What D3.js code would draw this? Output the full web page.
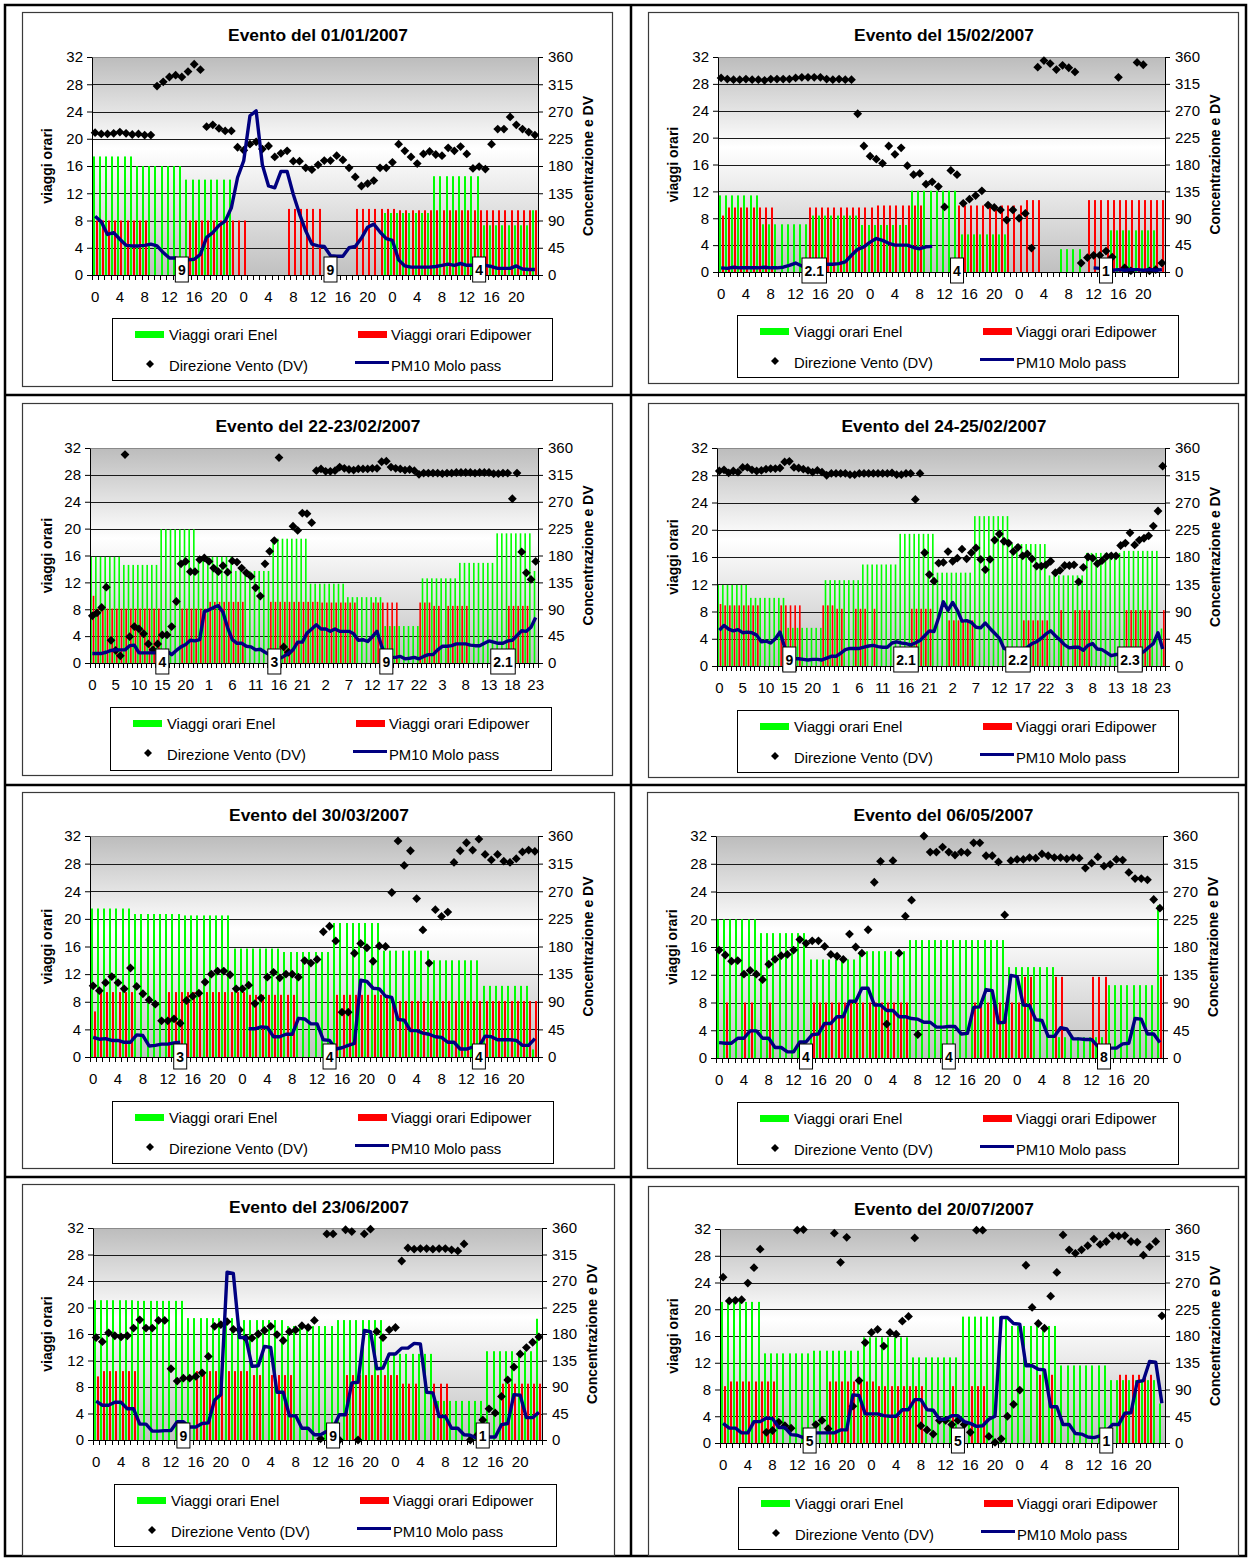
<!DOCTYPE html>
<html>
<head>
<meta charset="utf-8">
<script src="https://cdn.jsdelivr.net/npm/d3@7"></script>
<style>
  body { margin: 0; background: #fff; }
  svg { display: block; font-family: "Liberation Sans", Arial, sans-serif; }
</style>
</head>
<body>
<svg id="chart" width="1252" height="1560"></svg>
<script>
// ---------- hour labels ----------
const dayHours = [0,1,2,3,4,5,6,7,8,9,10,11,12,13,14,15,16,17,18,19,20,21,22,23];
const hours3d = [...dayHours, ...dayHours, ...dayHours];
const hours4d = [...dayHours, ...dayHours, ...dayHours, ...dayHours];

const seriesNames = ["Viaggi orari Enel", "Viaggi orari Edipower", "Direzione Vento (DV)", "PM10 Molo pass"];
const leftTicks = [0,4,8,12,16,20,24,28,32];
const rightTicks = [0,45,90,135,180,225,270,315,360];

// ---------- Evento del 01/01/2007 ----------
const enel1 = [
  17.4,17.4,17.4,17.4,17.4,17.4,17.4,16,16,16,16,16,16,16,16,14,14,14,14,14,14,14,14,0,
  0,0,0,0,0,0,0,0,0,0,0,0,0,0,0,0,0,0,0,0,0,0,0,9.1,
  9.1,9.1,9.1,9.1,9.1,9.1,9.1,14.5,14.5,14.5,14.5,14.5,14.5,14.5,14.5,7.3,7.3,7.3,7.3,7.3,7.3,7.3,7.3,9.5];
const edipower1 = [
  8,8,8,8,8,8,8,8,8,0,0,0,0,0,0,8,8,8,8,8,8,8,8,8,
  8,0,0,0,0,0,0,9.7,9.7,9.7,9.7,9.7,9.7,0,0,0,0,0,9.7,9.7,9.7,9.7,9.7,9.7,
  9.7,9.5,9.5,9.5,9.5,9.5,9.5,9.5,9.5,9.5,9.5,9.5,9.5,9.5,9.5,9.5,9.5,9.5,9.5,9.5,9.5,9.5,9.5,9.5];
const dv1 = [
  235,233,233,234,236,234,232,233,231,231,312,319,327,330,327,336,348,339,245,248,242,238,238,211,
  206,216,220,208,213,195,201,205,188,188,177,174,182,189,189,197,190,177,162,147,151,156,177,177,
  186,216,205,195,184,200,204,199,197,210,205,212,200,176,179,175,216,241,241,261,248,241,236,231];
const pm1 = [
  97,88,67,70,59,49,48,48,49,51,48,37,28,28,26,25,26,34,62,70,82,89,111,161,
  189,263,271,182,147,144,171,171,133,101,73,51,48,47,32,31,31,45,47,61,79,84,71,60,
  57,25,15,13,13,13,13,14,16,18,16,19,16,16,18,16,14,11,11,11,15,10,9,9];
const boxes1 = [{at:14,label:"9"},{at:38,label:"9"},{at:62,label:"4"}];

// ---------- Evento del 15/02/2007 ----------
const enel2 = [
  11.4,11.4,11.4,11.4,11.4,11.4,11.4,7.1,7.1,7.1,7.1,7.1,7.1,7.1,7.1,8.4,8.4,8.4,8.4,8.4,8.4,8.4,8.4,7,
  7,7,7,7,7,7,7,12.1,12.1,12.1,12.1,12.1,12.1,12.1,12.1,5.6,5.6,5.6,5.6,5.6,5.6,5.6,5.6,0,
  0,0,0,0,0,0,0,3.4,3.4,3.4,3.4,0,0,0,0,6.2,6.2,6.2,6.2,6.2,6.2,6.2,6.2,0];
const edipower2 = [
  8.4,9.6,9.6,9.6,9.6,9.6,9.6,9.6,9.6,0,0,0,0,0,9.6,9.6,9.6,9.6,9.6,9.6,9.6,9.6,9.6,9.6,
  9.6,9.9,9.9,9.9,9.9,9.9,9.9,9.9,9.9,0,0,0,0,0,9.9,9.9,9.9,9.9,9.9,9.9,9.9,9.9,9.9,9.9,
  9.9,10.7,10.7,10.7,0,0,0,0,0,0,0,10.7,10.7,10.7,10.7,10.7,10.7,10.7,10.7,10.7,10.7,10.7,10.7,10.7];
const dv2 = [
  325,323,322,322,323,322,322,321,323,323,323,323,325,326,326,326,326,323,322,323,322,322,265,211,
  194,189,182,211,197,208,178,163,165,147,151,143,109,170,163,115,122,128,136,112,108,104,87,104,
  90,98,40,343,354,349,339,346,342,335,15,24,28,28,35,25,326,7,2,351,347,2,4,15];
const pm2 = [
  7,6,8,7,7,7,7,8,7,7,8,11,15,10,8,8,13,13,13,14,17,28,38,42,
  50,56,53,48,45,45,45,41,39,42,43,null,null,null,null,null,null,null,null,null,null,null,null,null,
  null,null,null,null,null,null,null,null,null,null,null,null,7,6,4,3,4,3,4,4,3,4,3,4];
const boxes2 = [{at:15,label:"2.1"},{at:38,label:"4"},{at:62,label:"1"}];

// ---------- Evento del 22-23/02/2007 ----------
const enel3 = [
  15.8,15.8,15.8,15.8,15.8,15.8,15.8,14.6,14.6,14.6,14.6,14.6,14.6,14.6,14.6,19.9,19.9,19.9,19.9,19.9,19.9,19.9,19.9,15.8,
  15.8,15.8,15.8,15.8,15.8,15.8,15.8,13.7,13.7,13.7,13.7,13.7,13.7,13.7,13.7,18.5,18.5,18.5,18.5,18.5,18.5,18.5,18.5,11.8,
  11.8,11.8,11.8,11.8,11.8,11.8,11.8,9.8,9.8,9.8,9.8,9.8,9.8,9.8,9.8,5.5,5.5,5.5,5.5,5.5,5.5,5.5,5.5,12.6,
  12.6,12.6,12.6,12.6,12.6,12.6,12.6,14.9,14.9,14.9,14.9,14.9,14.9,14.9,14.9,19.3,19.3,19.3,19.3,19.3,19.3,19.3,19.3,13.7];
const edipower3 = [
  10,8.1,8.1,8.1,8.1,8.1,8.1,8.1,8.1,8.1,8.1,8.1,8.1,8.1,8.1,0,0,0,0,8.1,8.1,8.1,8.1,8.1,
  8.1,9.1,9.1,9.1,9.1,9.1,9.1,9.1,9.1,0,0,0,0,0,9.1,9.1,9.1,9.1,9.1,9.1,9.1,9.1,9.1,9.1,
  9.1,9,9,9,9,9,9,9,9,0,0,0,9,9,9,9,9,9,0,0,0,0,9,9,
  9,8.5,8.5,0,8.5,8.5,8.5,8.5,8.5,0,0,0,0,0,0,0,0,8.5,8.5,8.5,8.5,8.5,0,0];
const dv3 = [
  79,84,93,127,38,21,12,349,44,61,57,49,32,22,32,47,47,61,103,166,170,153,153,173,
  176,170,159,153,163,152,171,169,159,151,145,126,112,166,187,205,344,27,18,229,222,251,250,235,
  322,325,321,321,322,328,326,324,323,325,325,325,326,326,337,338,328,326,325,323,324,322,316,318,
  318,318,318,317,318,318,319,319,319,319,318,319,319,319,317,317,318,318,275,318,186,151,140,170];
const pm3 = [
  16,16,16,18,21,22,22,22,29,30,17,17,17,17,17,20,20,14,21,27,31,38,37,39,
  86,89,93,96,85,59,39,33,33,28,27,22,23,18,14,11,7,11,16,22,35,35,50,57,
  64,57,57,53,57,53,53,53,49,38,39,36,44,53,28,11,9.5,9.5,11,7,8,9.5,7,11,
  14,14,22,28,28,29,32,32,32,30,29,29,33,37,35,33,33,37,38,46,54,53,60,76];
const boxes3 = [{at:15,label:"4"},{at:39,label:"3"},{at:63,label:"9"},{at:88,label:"2.1"}];

// ---------- Evento del 24-25/02/2007 ----------
const enel4 = [
  11.9,11.9,11.9,11.9,11.9,11.9,11.9,10,10,10,10,10,10,10,10,5.6,5.6,5.6,5.6,5.6,5.6,5.6,5.6,12.6,
  12.6,12.6,12.6,12.6,12.6,12.6,12.6,14.9,14.9,14.9,14.9,14.9,14.9,14.9,14.9,19.4,19.4,19.4,19.4,19.4,19.4,19.4,19.4,13.7,
  13.7,13.7,13.7,13.7,13.7,13.7,13.7,22,22,22,22,22,22,22,22,17.9,17.9,17.9,17.9,17.9,17.9,17.9,17.9,13.3,
  13.3,13.3,13.3,13.3,13.3,13.3,13.3,16.6,16.6,16.6,16.6,16.6,16.6,16.6,16.6,16.9,16.9,16.9,16.9,16.9,16.9,16.9,16.9,5.5];
const edipower4 = [
  9.1,8.9,8.9,8.9,8.9,8.9,8.9,8.9,8.9,0,0,0,0,8.9,8.9,8.9,8.9,8.9,0,0,0,0,8.9,8.9,
  8.9,8.4,8.4,0,0,8.4,8.4,8.4,0,8.4,0,0,0,0,0,0,0,8.4,8.4,8.4,8.4,8.4,0,0,
  0,6.7,6.7,6.7,6.7,6.7,6.7,0,0,0,0,0,0,0,0,0,0,6.7,6.7,6.7,6.7,6.7,6.7,0,
  0,8.2,0,0,8.2,8.2,8.2,8.2,0,0,0,0,0,0,0,8.2,8.2,8.2,8.2,8.2,8.2,0,0,8.2];
const dv4 = [
  322,324,319,322,320,328,328,324,322,323,325,326,326,327,337,338,328,327,325,323,320,323,320,315,
  318,318,318,318,316,316,318,318,318,318,318,318,318,319,316,316,318,318,275,318,187,151,140,170,
  171,189,173,178,193,177,187,195,176,159,176,208,218,206,203,189,196,182,185,177,165,165,167,173,
  154,158,166,166,167,139,163,180,178,169,174,181,182,182,199,203,220,200,208,211,215,231,256,330];
const pm4 = [
  59,67,61,58,60,55,56,55,51,40,41,38,45,56,31,12,12,12,11,10,11,11,10,13,
  16,16,21,27,29,29,29,31,33,34,32,31,31,38,40,38,37,35,38,42,50,58,57,80,
  106,92,105,92,74,75,72,64,63,71,62,54,46,29,26,22,20,22,31,37,40,46,53,58,
  50,43,35,30,31,31,26,34,37,28,27,22,17,19,19,20,17,16,20,24,31,37,55,28];
const boxes4 = [{at:15,label:"9"},{at:40,label:"2.1"},{at:64,label:"2.2"},{at:88,label:"2.3"}];

// ---------- Evento del 30/03/2007 ----------
const enel5 = [
  21.5,21.5,21.5,21.5,21.5,21.5,21.5,20.7,20.7,20.7,20.7,20.7,20.7,20.7,20.7,20.5,20.5,20.5,20.5,20.5,20.5,20.5,20.5,15.7,
  15.7,15.7,15.7,15.7,15.7,15.7,15.7,15.2,15.2,15.2,15.2,15.2,15.2,15.2,15.2,19.4,19.4,19.4,19.4,19.4,19.4,19.4,19.4,15.4,
  15.4,15.4,15.4,15.4,15.4,15.4,15.4,14,14,14,14,14,14,14,14,10.3,10.3,10.3,10.3,10.3,10.3,10.3,10.3,1.1];
const edipower5 = [
  6.6,9.4,9.4,9.4,9.4,9.4,9.4,0,0,0,0,0,9.4,9.4,9.4,9.4,9.4,9.4,9.4,9.4,9.4,9.4,9.4,9.4,
  9.4,9,9,9,9,9,9,9,9,0,0,0,0,0,0,9,9,9,9,9,9,9,9,9,
  8.1,8.1,8.1,8.1,8.1,8.1,8.1,8.1,8.1,8.1,8.1,8.1,8.1,8.1,8.1,8.1,8.1,8.1,8.1,8.1,8.1,8.1,8.1,8.1];
const dv5 = [
  116,108,121,131,121,111,145,115,103,93,86,59,59,62,55,92,99,104,122,135,140,140,134,111,
  111,117,87,96,130,138,129,135,135,130,157,153,159,204,213,189,73,73,169,185,178,156,181,180,
  268,352,312,336,258,207,153,240,229,236,317,336,349,337,355,330,321,330,319,317,323,334,337,335];
const pm5 = [
  32,29,30,27,27,24,24,36,35,18,19,21,21,23,24,null,null,null,null,null,null,null,null,null,
  null,46,46,49,48,33,33,37,37,63,62,54,54,28,27,13,15,19,22,125,123,112,111,99,
  97,61,60,43,43,39,37,33,32,24,24,13,13,16,17,34,33,28,28,28,27,19,19,30];
const boxes5 = [{at:14,label:"3"},{at:38,label:"4"},{at:62,label:"4"}];

// ---------- Evento del 06/05/2007 ----------
const enel6 = [
  20,20,20,20,20,20,20,18,18,18,18,18,18,18,18,14.2,14.2,14.2,14.2,14.2,14.2,14.2,14.2,15.4,
  15.4,15.4,15.4,15.4,15.4,15.4,15.4,17,17,17,17,17,17,17,17,17,17,17,17,17,17,17,17,13.1,
  13.1,13.1,13.1,13.1,13.1,13.1,13.1,3,3,3,3,3,3,3,3,10.5,10.5,10.5,10.5,10.5,10.5,10.5,10.5,22];
const edipower6 = [
  0,8,0,0,8,8,0,0,8,0,0,0,0,0,0,8,8,8,8,8,8,8,8,8,
  8,8,8,8,8,8,8,0,0,0,0,0,0,0,0,0,0,8,8,8,8,8,8,8,
  8,11.7,11.7,0,0,0,11.7,11.7,0,0,0,0,11.7,11.7,11.7,0,0,0,0,0,0,0,0,11.7];
const dv6 = [
  175,167,157,158,136,142,136,127,152,160,166,168,175,192,186,190,190,181,168,165,160,201,180,170,
  208,285,319,55,320,170,230,256,38,360,334,334,342,334,329,334,333,349,349,328,328,318,232,320,
  322,322,325,324,331,328,325,325,323,325,324,308,316,326,311,314,322,321,301,291,291,289,257,243];
const pm6 = [
  25,24,24,32,32,44,44,32,32,17,17,10,10,26,26,38,39,56,56,67,67,92,92,113,
  113,86,86,77,77,67,67,64,63,58,58,50,50,51,51,39,40,82,83,111,109,57,58,134,
  132,86,85,62,61,35,35,49,47,31,31,30,30,19,16,16,16,23,24,64,63,39,39,25];
const boxes6 = [{at:14,label:"4"},{at:37,label:"4"},{at:62,label:"8"}];

// ---------- Evento del 23/06/2007 ----------
const enel7 = [
  21.1,21.1,21.1,21.1,21.1,21.1,21.1,21,21,21,21,21,21,21,21,18.4,18.4,18.4,18.4,18.4,18.4,18.4,18.4,18.1,
  18.1,18.1,18.1,18.1,18.1,18.1,18.1,17.2,17.2,17.2,17.2,17.2,17.2,17.2,17.2,18.1,18.1,18.1,18.1,18.1,18.1,18.1,18.1,13,
  13,13,13,13,13,13,13,5.9,5.9,5.9,5.9,5.9,5.9,5.9,5.9,13.4,13.4,13.4,13.4,13.4,13.4,13.4,13.4,18.3];
const edipower7 = [
  9.6,10.4,10.4,10.4,10.4,10.4,10.4,0,0,0,0,0,0,0,0,0,10.4,10.4,10.4,10.4,10.4,10.4,10.4,10.4,
  10.4,9.8,9.8,0,9.8,9.8,9.8,9.8,0,0,0,0,0,0,0,0,9.8,9.8,9.8,9.8,9.8,9.8,9.8,9.8,
  9.8,8.5,8.5,8.5,0,0,8.5,8.5,8.5,0,0,0,0,0,0,0,0,8.5,8.5,8.5,8.5,8.5,8.5,8.5];
const dv7 = [
  174,167,182,177,175,177,190,204,190,190,203,203,121,100,105,105,108,114,142,193,196,201,188,187,
  173,173,180,186,193,179,169,184,187,194,191,203,2,350,350,0,357,354,0,350,358,184,174,187,
  191,304,326,324,325,325,324,325,325,323,321,333,0,7,34,53,46,74,102,124,146,157,166,175];
const pm7 = [
  66,59,59,64,64,53,53,27,27,15,15,16,16,31,31,22,22,28,29,68,77,285,283,174,
  174,125,126,159,157,81,81,41,41,20,20,9,9,15,20,43,43,97,98,186,184,121,122,146,
  146,156,156,164,163,81,80,40,40,20,20,9,8,3,2,5,5,26,28,77,76,38,38,47];
const boxes7 = [{at:14,label:"9"},{at:38,label:"9"},{at:62,label:"1"}];

// ---------- Evento del 20/07/2007 ----------
const enel8 = [
  21.1,21.1,21.1,21.1,21.1,21.1,21.1,13.4,13.4,13.4,13.4,13.4,13.4,13.4,13.4,13.8,13.8,13.8,13.8,13.8,13.8,13.8,13.8,15.8,
  15.8,15.8,15.8,15.8,15.8,15.8,15.8,12.8,12.8,12.8,12.8,12.8,12.8,12.8,12.8,18.9,18.9,18.9,18.9,18.9,18.9,18.9,18.9,17.5,
  17.5,17.5,17.5,17.5,17.5,17.5,17.5,11.6,11.6,11.6,11.6,11.6,11.6,11.6,11.6,9.4,9.4,9.4,9.4,9.4,9.4,9.4,9.4,5.9];
const edipower8 = [
  8.5,9.2,9.2,9.2,9.2,9.2,9.2,9.2,9.2,0,0,0,0,0,0,0,0,9.2,9.2,9.2,9.2,9.2,9.2,9.2,
  9.2,8.5,8.5,8.5,8.5,8.5,8.5,8.5,8.5,0,0,0,0,8.5,0,0,8.5,8.5,8.5,0,0,0,0,0,
  0,0,0,10.2,0,10.2,0,0,0,0,0,0,0,0,0,0,10.2,10.2,10.2,10.2,10.2,10.2,0,0];
const dv8 = [
  279,239,240,241,269,295,326,18,21,35,29,25,358,359,null,31,38,24,353,304,346,62,105,169,
  186,191,163,186,183,205,213,345,29,22,15,38,38,31,38,31,18,358,358,11,1,7,45,65,
  89,299,228,201,193,247,287,350,325,319,325,332,343,334,339,349,348,349,339,338,316,330,339,214];
const pm8 = [
  33,25,25,17,17,36,36,42,41,26,26,14,13,9,7,17,17,17,17,22,22,81,80,49,
  49,49,46,45,45,56,56,73,73,56,55,40,40,46,46,36,33,28,29,40,45,211,211,201,
  200,130,130,124,123,61,61,31,31,16,15,10,9,12,20,31,31,50,51,103,105,137,136,67];
const boxes8 = [{at:14,label:"5"},{at:38,label:"5"},{at:62,label:"1"}];

const panels = [
  {title:"Evento del 01/01/2007",    hours:hours3d, every:4, enel:enel1, edipower:edipower1, dv:dv1, pm:pm1, boxes:boxes1},
  {title:"Evento del 15/02/2007",    hours:hours3d, every:4, enel:enel2, edipower:edipower2, dv:dv2, pm:pm2, boxes:boxes2},
  {title:"Evento del 22-23/02/2007", hours:hours4d, every:5, enel:enel3, edipower:edipower3, dv:dv3, pm:pm3, boxes:boxes3},
  {title:"Evento del 24-25/02/2007", hours:hours4d, every:5, enel:enel4, edipower:edipower4, dv:dv4, pm:pm4, boxes:boxes4},
  {title:"Evento del 30/03/2007",    hours:hours3d, every:4, enel:enel5, edipower:edipower5, dv:dv5, pm:pm5, boxes:boxes5},
  {title:"Evento del 06/05/2007",    hours:hours3d, every:4, enel:enel6, edipower:edipower6, dv:dv6, pm:pm6, boxes:boxes6},
  {title:"Evento del 23/06/2007",    hours:hours3d, every:4, enel:enel7, edipower:edipower7, dv:dv7, pm:pm7, boxes:boxes7},
  {title:"Evento del 20/07/2007",    hours:hours3d, every:4, enel:enel8, edipower:edipower8, dv:dv8, pm:pm8, boxes:boxes8}
];

// ---------- page layout: chart frame, plot area, legend box ----------
const layouts = [
  {frame:[22,12,590,374],   plot:[92,57,446,218],    legend:[112,318,440,62],  boxOff:-18},
  {frame:[648,12,590,371],  plot:[718,57,447,215],   legend:[737,315,441,62],  boxOff:-14},
  {frame:[22,403,590,372],  plot:[90,448,448,215],   legend:[110,707,441,63],  boxOff:-14},
  {frame:[648,403,590,374], plot:[717,448,448,218],  legend:[737,710,441,62],  boxOff:-19},
  {frame:[22,792,592,376],  plot:[90,836,448,221],   legend:[112,1101,441,62], boxOff:-13},
  {frame:[647,792,591,376], plot:[716,836,447,222],  legend:[737,1102,441,62], boxOff:-14},
  {frame:[22,1184,592,371], plot:[93,1228,449,212],  legend:[114,1484,442,62], boxOff:-17},
  {frame:[648,1186,590,369],plot:[720,1229,445,214], legend:[738,1487,440,62], boxOff:-15}
];

const FONT = '"Liberation Sans", Arial, sans-serif';
const C_ENEL = "#00ff00", C_EDI = "#ff0000", C_PM = "#000080";
const diamond = "M0,-4.4L4.4,0L0,4.4L-4.4,0Z";

const svg = d3.select("#chart");
svg.append("rect").attr("width",1252).attr("height",1560).attr("fill","#fff");

const grad = svg.append("defs").append("linearGradient")
  .attr("id","plotBg").attr("x1",0).attr("y1",0).attr("x2",0).attr("y2",1);
grad.append("stop").attr("offset","0%").attr("stop-color","#bcbcbc");
grad.append("stop").attr("offset","42%").attr("stop-color","#ffffff");
grad.append("stop").attr("offset","100%").attr("stop-color","#c0c0c0");

// table grid around the eight charts
const table = svg.append("g").attr("stroke","#000").attr("stroke-width",2.5).attr("fill","none");
table.append("rect").attr("x",5).attr("y",5).attr("width",1241).attr("height",1551);
table.append("line").attr("x1",631).attr("x2",631).attr("y1",5).attr("y2",1556);
[395,785,1177].forEach(yy => table.append("line").attr("x1",5).attr("x2",1246).attr("y1",yy).attr("y2",yy));

function drawPanel(p, L) {
  const g = svg.append("g").attr("font-family", FONT);
  const [fx, fy, fw, fh] = L.frame;
  g.append("rect").attr("x",fx+0.5).attr("y",fy+0.5).attr("width",fw).attr("height",fh)
    .attr("fill","#fff").attr("stroke","#3a3a3a").attr("stroke-width",1.2);

  g.append("text").attr("x",fx+fw/2+1).attr("y",fy+29).attr("text-anchor","middle")
    .attr("font-size",17.4).attr("font-weight","bold").text(p.title);

  const [px, py, pw, ph] = L.plot;
  const n = p.hours.length;
  const x = d3.scaleBand().domain(d3.range(n)).range([px, px+pw]);
  const bw = x.bandwidth();
  const yL = d3.scaleLinear().domain([0,32]).range([py+ph, py]);
  const yR = d3.scaleLinear().domain([0,360]).range([py+ph, py]);

  g.append("rect").attr("x",px).attr("y",py).attr("width",pw).attr("height",ph).attr("fill","url(#plotBg)");

  g.append("g").selectAll("line").data(leftTicks.filter(v => v > 0)).join("line")
    .attr("x1",px).attr("x2",px+pw)
    .attr("y1",d => Math.round(yL(d))+0.5).attr("y2",d => Math.round(yL(d))+0.5)
    .attr("stroke",d => d === 32 ? "#8a8a8a" : "#1a1a1a").attr("stroke-width",1);

  // hourly trips: Enel on the left half of each hour, Edipower on the right
  const wide = bw > 5;
  const barW = wide ? 2 : 1.6;
  const barX = (i, f) => wide ? Math.round(x(i)+bw*f-barW/2) : x(i)+bw*f-barW/2;
  g.append("g").selectAll("rect").data(p.enel).join("rect")
    .attr("x",(d,i) => barX(i,0.25)).attr("y",d => yL(d))
    .attr("width",barW).attr("height",d => yL(0)-yL(d)).attr("fill",C_ENEL);
  g.append("g").selectAll("rect").data(p.edipower).join("rect")
    .attr("x",(d,i) => barX(i,0.75)).attr("y",d => yL(d))
    .attr("width",barW).attr("height",d => yL(0)-yL(d)).attr("fill",C_EDI);

  // wind direction
  g.append("g").selectAll("path").data(p.dv.map((v,i) => ({v,i})).filter(d => d.v != null)).join("path")
    .attr("d",diamond).attr("fill","#000")
    .attr("transform",d => `translate(${x(d.i)+bw/2},${yR(d.v)})`);

  // PM10 concentration
  const line = d3.line().defined(d => d != null)
    .x((d,i) => x(i)+bw/2).y(d => yR(d));
  g.append("path").datum(p.pm).attr("d",line).attr("fill","none")
    .attr("stroke",C_PM).attr("stroke-width",3.4).attr("stroke-linejoin","round");

  // axes
  const axL = g.append("g").attr("transform",`translate(${px},0)`)
    .call(d3.axisLeft(yL).tickValues(leftTicks).tickSize(5).tickSizeOuter(0).tickPadding(4));
  const axR = g.append("g").attr("transform",`translate(${px+pw},0)`)
    .call(d3.axisRight(yR).tickValues(rightTicks).tickSize(5).tickSizeOuter(0).tickPadding(5));
  [axL, axR].forEach(a => {
    a.attr("font-family",FONT).attr("font-size",15);
    a.selectAll("text").attr("fill","#000");
    a.selectAll("line,path").attr("stroke","#000");
  });

  const y0 = py+ph;
  g.append("line").attr("x1",px).attr("x2",px+pw).attr("y1",y0+0.5).attr("y2",y0+0.5).attr("stroke","#000");
  g.append("g").selectAll("line").data(d3.range(n+1)).join("line")
    .attr("x1",i => Math.round(px+i*bw)+0.5).attr("x2",i => Math.round(px+i*bw)+0.5)
    .attr("y1",y0).attr("y2",y0+5).attr("stroke","#000");
  g.append("g").selectAll("text").data(d3.range(n).filter(i => i % p.every === 0)).join("text")
    .attr("x",i => x(i)+bw/2).attr("y",y0+27).attr("text-anchor","middle")
    .attr("font-size",15).text(i => p.hours[i]);

  // axis titles
  g.append("text").attr("transform",`translate(${fx+30},${py+ph/2}) rotate(-90)`)
    .attr("text-anchor","middle").attr("font-size",14).attr("font-weight","bold").text("viaggi orari");
  g.append("text").attr("transform",`translate(${px+pw+55},${py+ph/2}) rotate(-90)`)
    .attr("text-anchor","middle").attr("font-size",14).attr("font-weight","bold").text("Concentrazione e DV");

  // daily labels on the time axis
  p.boxes.forEach(b => {
    const bg = g.append("g");
    const r = bg.append("rect");
    const t = bg.append("text").attr("x",x(b.at)+bw/2).attr("y",y0+L.boxOff+18)
      .attr("text-anchor","middle").attr("font-size",14).attr("font-weight","bold").text(b.label);
    const tw = t.node().getComputedTextLength();
    const w = Math.max(13, tw+5);
    r.attr("x",x(b.at)+bw/2-w/2).attr("y",y0+L.boxOff).attr("width",w).attr("height",25)
      .attr("fill","#fff").attr("stroke","#000").attr("stroke-width",1);
  });

  // legend
  const [lx, ly, lw, lh] = L.legend;
  const lg = g.append("g");
  lg.append("rect").attr("x",lx+0.5).attr("y",ly+0.5).attr("width",lw).attr("height",lh)
    .attr("fill","#fff").attr("stroke","#000").attr("stroke-width",1);
  lg.append("rect").attr("x",lx+23).attr("y",ly+13).attr("width",29).attr("height",7).attr("fill",C_ENEL);
  lg.append("rect").attr("x",lx+246).attr("y",ly+13).attr("width",29).attr("height",7).attr("fill",C_EDI);
  lg.append("path").attr("d","M0,-4L4,0L0,4L-4,0Z").attr("fill","#000").attr("transform",`translate(${lx+38},${ly+46})`);
  lg.append("line").attr("x1",lx+243).attr("x2",lx+277).attr("y1",ly+44.5).attr("y2",ly+44.5)
    .attr("stroke",C_PM).attr("stroke-width",3);
  const lt = [[lx+57,ly+22,seriesNames[0]],[lx+279,ly+22,seriesNames[1]],[lx+57,ly+53,seriesNames[2]],[lx+279,ly+53,seriesNames[3]]];
  lg.selectAll("text").data(lt).join("text").attr("x",d => d[0]).attr("y",d => d[1])
    .attr("font-size",14.8).text(d => d[2]);
}

panels.forEach((p,k) => drawPanel(p, layouts[k]));
</script>
</body>
</html>
